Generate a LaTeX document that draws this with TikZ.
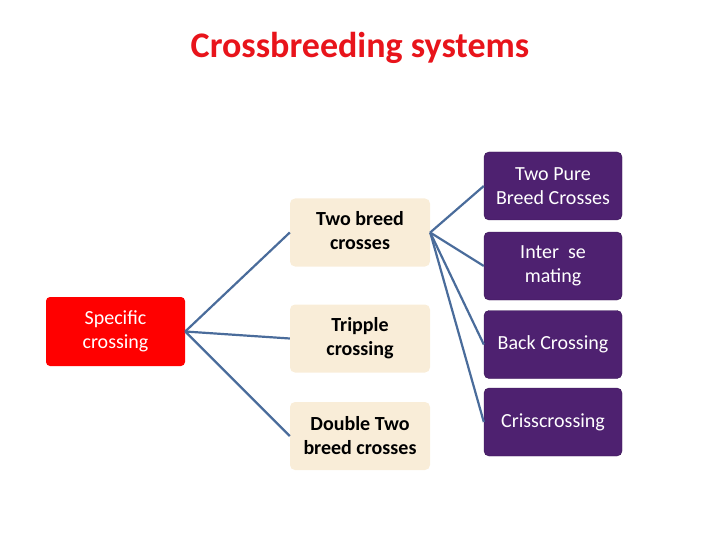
\documentclass[tikz,border=0pt]{standalone}
\usepackage{fontspec}
\setmainfont{Carlito}
\usetikzlibrary{positioning}
\definecolor{titlered}{HTML}{E8141B}
\definecolor{linkblue}{HTML}{4A6C9B}
\definecolor{beige}{HTML}{F9EDD8}
\definecolor{grape}{HTML}{4E2170}
\definecolor{grapeedge}{HTML}{3A1556}
\begin{document}
\begin{tikzpicture}[
    x=1pt, y=-1pt,
    % Styles
    rootbox/.style={% For the starting box
        rectangle,
        rounded corners=4pt,
        fill=red,
        text=white,
        minimum width=139pt,
        minimum height=69pt,
        align=center,
        font=\fontsize{20}{24}\selectfont,
        },
    midbox/.style={% For the middle column
        rectangle,
        rounded corners=5pt,
        fill=beige,
        minimum width=140pt,
        minimum height=68pt,
        align=center,
        font=\bfseries\fontsize{20}{24}\selectfont,
        },
    leafbox/.style={% For the purple column
        rectangle,
        rounded corners=5pt,
        fill=grape,
        draw=grapeedge,
        text=white,
        minimum width=138pt,
        minimum height=68pt,
        align=center,
        font=\fontsize{20}{24}\selectfont,
        },
    link/.style={% Connectors
        draw=linkblue,
        line width=2.2pt,
        },
    ]
    \useasboundingbox (0,0) rectangle (720,540);

    % Title
    \node [text=titlered, font=\bfseries\fontsize{36}{40}\selectfont] (title) at (360,48) {Crossbreeding systems};

    % Root
    \node [rootbox] (spec) at (115.5,331.5) {Specific\\crossing};

    % Middle column
    \node [midbox] (two) at (360,232.5) {};
    \node [font=\bfseries\fontsize{20}{24}\selectfont, align=center] (twotext) at (360,231) {Two breed\\crosses};
    \node [midbox] (trip) at (360,338.5) {Tripple\\crossing};
    \node [midbox] (dbl) at (360,436) {Double Two\\breed crosses};

    % Purple column
    \node [leafbox] (pure) at (553,186) {Two Pure\\Breed Crosses};
    \node [leafbox] (inter) at (553,266) {Inter\ \ se\\mating};
    \node [leafbox] (back) at (553,344.5) {Back Crossing};
    \node [leafbox] (criss) at (553,422) {};
    \node [text=white, font=\fontsize{20}{24}\selectfont] (crisstext) at (553,422) {Crisscrossing};

    % Connectors
    \draw [link] (spec.east) -- (two.west);
    \draw [link] (spec.east) -- (trip.west);
    \draw [link] (spec.east) -- (dbl.west);
    \foreach \leaf in {pure, inter, back, criss}
        \draw [link] (two.east) -- (\leaf.west);
\end{tikzpicture}
\end{document}
